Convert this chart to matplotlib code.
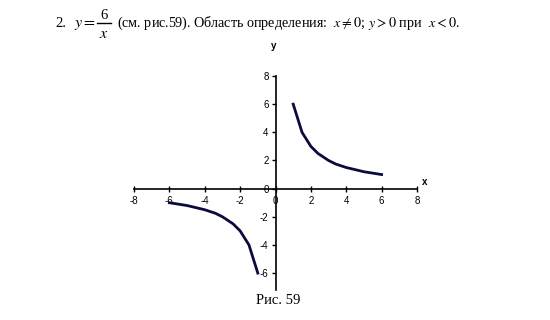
import matplotlib.pyplot as plt
from matplotlib.lines import Line2D

plt.rcParams['mathtext.fontset'] = 'stix'

# branch for x > 0
x_pos = [1, 1.5, 2, 2.4, 3, 3.4, 4, 5, 6]
y_pos = [6, 4, 3, 2.5, 2, 1.75, 1.5, 1.2, 1]
# branch for x < 0
x_neg = [-6, -5, -4, -3.4, -3, -2.4, -2, -1.5, -1]
y_neg = [-1, -1.2, -1.5, -1.75, -2, -2.5, -3, -4, -6]

xticks = [-8, -6, -4, -2, 0, 2, 4, 6, 8]
yticks = [-6, -4, -2, 0, 2, 4, 6, 8]

W, H = 550, 320
fig = plt.figure(figsize=(5.5, 3.2), dpi=100)
ax = fig.add_axes([134 / W, 1 - 290 / H, 283 / W, 214 / H])

ax.plot(x_pos, y_pos, color='#0a0a40', lw=2)
ax.plot(x_neg, y_neg, color='#0a0a40', lw=2)

ax.set_xlim(-8, 8)
ax.set_ylim(-7.2, 8)
ax.spines['left'].set_position(('data', 0))
ax.spines['bottom'].set_position(('data', 0))
ax.spines['right'].set_visible(False)
ax.spines['top'].set_visible(False)
for s in ('left', 'bottom'):
    ax.spines[s].set_linewidth(1.2)

ax.set_xticks(xticks)
ax.set_yticks(yticks)
ax.tick_params(axis='x', direction='inout', length=5, width=1, labelsize=7, pad=3)
ax.tick_params(axis='y', direction='out', length=3, width=1, labelsize=7, pad=2)
ax.set_xticklabels([str(t) for t in xticks], family='Liberation Sans')
ax.set_yticklabels([str(t) for t in yticks], family='Liberation Sans')

ax.text(8.3, 0.1, 'x', fontsize=7, fontweight='bold', family='Liberation Sans', va='bottom')
ax.text(-0.1, 9.9, 'y', fontsize=7, fontweight='bold', family='Liberation Sans', ha='center')

# heading with the fraction 6/x built from pieces
def px(x, y):
    return x / W, 1 - y / H

serif = 'Liberation Serif'
fig.text(*px(55, 27), '2.', fontsize=10.5, family=serif, va='baseline')
fig.text(*px(74, 27), r'$y=$', fontsize=11.5, va='baseline')
fig.text(*px(104, 19), '6', fontsize=10.5, family=serif, ha='center', va='baseline')
fig.add_artist(Line2D([97 / W, 111 / W], [1 - 23 / H, 1 - 23 / H], color='black', lw=1))
fig.text(*px(104, 38), r'$x$', fontsize=11.5, ha='center', va='baseline')
fig.text(*px(117, 27),
         r"(см. рис.59). Область определения:  $x\neq 0$; $y>0$ при  $x<0$.",
         fontsize=10.2, family=serif, va='baseline')

fig.text(*px(278, 304), 'Рис. 59', fontsize=10.5, family=serif, ha='center', va='baseline')

fig.savefig('out.png')
